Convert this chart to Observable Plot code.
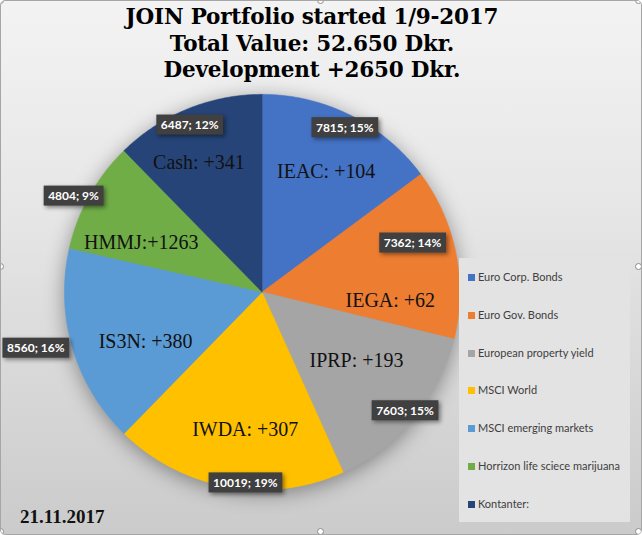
<!DOCTYPE html>
<html>
<head>
<meta charset="utf-8">
<script src="https://cdn.jsdelivr.net/npm/d3@7"></script>
<script src="https://cdn.jsdelivr.net/npm/@observablehq/plot@0.6"></script>
<style>
  html, body { margin: 0; padding: 0; background: #ffffff; }
  #card {
    position: relative; width: 642px; height: 535px; box-sizing: border-box;
    border: 1px solid #a6a6a6; border-radius: 5px; overflow: hidden;
    background: linear-gradient(180deg, #f3f3f3 0%, #e6e6e6 40%, #d6d6d6 75%, #cbcbcb 100%);
  }
  #chart { position: absolute; left: -1px; top: -1px; }
  #title {
    position: absolute; left: -1px; top: 3px; width: 624px; text-align: center;
    font-family: "DejaVu Serif", "Liberation Serif", serif; font-weight: bold;
    font-size: 21.5px; line-height: 26.5px; letter-spacing: -0.2px; color: #000;
  }
  #legend {
    position: absolute; left: 458px; top: 257px; width: 171px; height: 264px;
    background: #e3e3e3;
    font-family: Lato, "Liberation Sans", sans-serif; font-size: 11px; color: #404040;
  }
  .li { position: absolute; left: 9px; height: 14px; line-height: 14px; white-space: nowrap; }
  .sw { display: inline-block; width: 7px; height: 7px; margin-right: 3px; vertical-align: 0px; }
  #date {
    position: absolute; left: 19px; top: 505px;
    font-family: "Liberation Serif", serif; font-weight: bold; font-size: 19px; color: #111;
  }
  .handle {
    position: absolute; width: 7px; height: 7px; border-radius: 50%;
    background: #fff; border: 1px solid #8c8c8c; box-sizing: border-box;
  }
</style>
</head>
<body>
<div id="card">
  <div id="chart"></div>
  <div id="title"></div>
  <div id="legend"></div>
  <div id="date"></div>
</div>
<script>
// ---- data ----
const tickers = ["IEAC", "IEGA", "IPRP", "IWDA", "IS3N", "HMMJ", "Cash"];
const categories = ["Euro Corp. Bonds", "Euro Gov. Bonds", "European property yield", "MSCI World", "MSCI emerging markets", "Horrizon life sciece marijuana", "Kontanter:"];
const values = [7815, 7362, 7603, 10019, 8560, 4804, 6487];
const percents = ["15%", "14%", "15%", "19%", "16%", "9%", "12%"];
const sliceLabels = ["IEAC: +104", "IEGA: +62", "IPRP: +193", "IWDA: +307", "IS3N: +380", "HMMJ:+1263", "Cash: +341"];
const colors = ["#4472C4", "#ED7D31", "#A5A5A5", "#FFC000", "#5B9BD5", "#70AD47", "#264478"];
const titleLines = ["JOIN Portfolio started 1/9-2017", "Total Value: 52.650 Dkr.", "Development +2650 Dkr."];
const dateText = "21.11.2017";
// layout: polar placement (angle shift in degrees, radius factor) of labels
const valueLabelShift = [0, -6.6, 0, -5, 2.5, -2.3, -1.3];
const valueLabelRadius = [0.93, 0.80, 0.94, 0.97, 1.18, 1.07, 0.92];
const sliceLabelShift = [1.3, 15.4, -3.8, -3, -6.5, -7, -3.8];
const sliceLabelRadius = [0.69, 0.65, 0.59, 0.70, 0.64, 0.66, 0.73];

// ---- build geometry from data ----
const arcs = d3.pie().sort(null).value(d => d)(values);
const wedgePts = [];
arcs.forEach((a, i) => {
  wedgePts.push({k: i, x: 0, y: 0});
  const n = Math.max(2, Math.ceil((a.endAngle - a.startAngle) / 0.01));
  for (let j = 0; j <= n; j++) {
    const t = a.startAngle + (a.endAngle - a.startAngle) * j / n;
    wedgePts.push({k: i, x: Math.sin(t), y: Math.cos(t)});
  }
  wedgePts.push({k: i, x: 0, y: 0});
});
const rad = Math.PI / 180;
const mid = a => (a.startAngle + a.endAngle) / 2;
const inner = arcs.map((a, i) => {
  const t = mid(a) + sliceLabelShift[i] * rad, r = sliceLabelRadius[i];
  return {x: r * Math.sin(t), y: r * Math.cos(t), t: sliceLabels[i]};
});
const outer = arcs.map((a, i) => {
  const t = mid(a) + valueLabelShift[i] * rad, r = valueLabelRadius[i];
  return {x: r * Math.sin(t), y: r * Math.cos(t), t: values[i] + "; " + percents[i]};
});

const chart = Plot.plot({
  width: 642, height: 535, margin: 0,
  style: {background: "transparent", overflow: "visible"},
  x: {domain: [-1, 1], range: [64, 460], axis: null},
  y: {domain: [-1, 1], range: [490, 94], axis: null},
  marks: [
    Plot.line(wedgePts, {x: "x", y: "y", z: "k", fill: d => colors[d.k], stroke: d => colors[d.k], strokeWidth: 0.5, curve: "linear"}),
    Plot.text(inner, {x: "x", y: "y", text: "t", fontSize: 20, fontFamily: "Liberation Serif, serif", fill: "#111"}),
    Plot.text(outer, {x: "x", y: "y", text: "t", fontSize: 12, fontWeight: "bold", fontFamily: "Lato, Liberation Sans, sans-serif", fill: "#ffffff"})
  ]
});
document.getElementById("chart").appendChild(chart);

// soft shadow around pie
chart.querySelectorAll("g[aria-label=line]").forEach(g => g.style.filter = "drop-shadow(0px 4px 10px rgba(0,0,0,0.38))");

// dark boxes behind value labels
const textGroups = chart.querySelectorAll("g[aria-label=text]");
const lblGroup = textGroups[textGroups.length - 1];
lblGroup.querySelectorAll("text").forEach(t => {
  const b = t.getBBox();
  const r = document.createElementNS("http://www.w3.org/2000/svg", "rect");
  r.setAttribute("x", b.x - 4.5);
  r.setAttribute("y", b.y - 2.5);
  r.setAttribute("width", b.width + 9);
  r.setAttribute("height", b.height + 5);
  r.setAttribute("fill", "#404040");
  r.setAttribute("stroke", "none");
  r.setAttribute("style", "filter: drop-shadow(2px 2px 2px rgba(0,0,0,0.45))");
  if (t.getAttribute("transform")) r.setAttribute("transform", t.getAttribute("transform"));
  t.parentNode.insertBefore(r, t);
});

// title, legend, date
document.getElementById("title").innerHTML = titleLines.join("<br>");
const legend = document.getElementById("legend");
categories.forEach((c, i) => {
  const d = document.createElement("div");
  d.className = "li";
  d.style.top = (12 + i * 37.8) + "px";
  d.innerHTML = `<span class="sw" style="background:${colors[i]}"></span>${c}`;
  legend.appendChild(d);
});
document.getElementById("date").textContent = dateText;

// selection handles
const card = document.getElementById("card");
[[320, 0], [0, 266], [638, 266], [320, 531], [0, 0], [638, 0], [0, 531], [638, 531]].forEach(([cx, cy]) => {
  const h = document.createElement("div");
  h.className = "handle";
  h.style.left = (cx - 4) + "px";
  h.style.top = (cy - 4) + "px";
  card.appendChild(h);
});
</script>
</body>
</html>
